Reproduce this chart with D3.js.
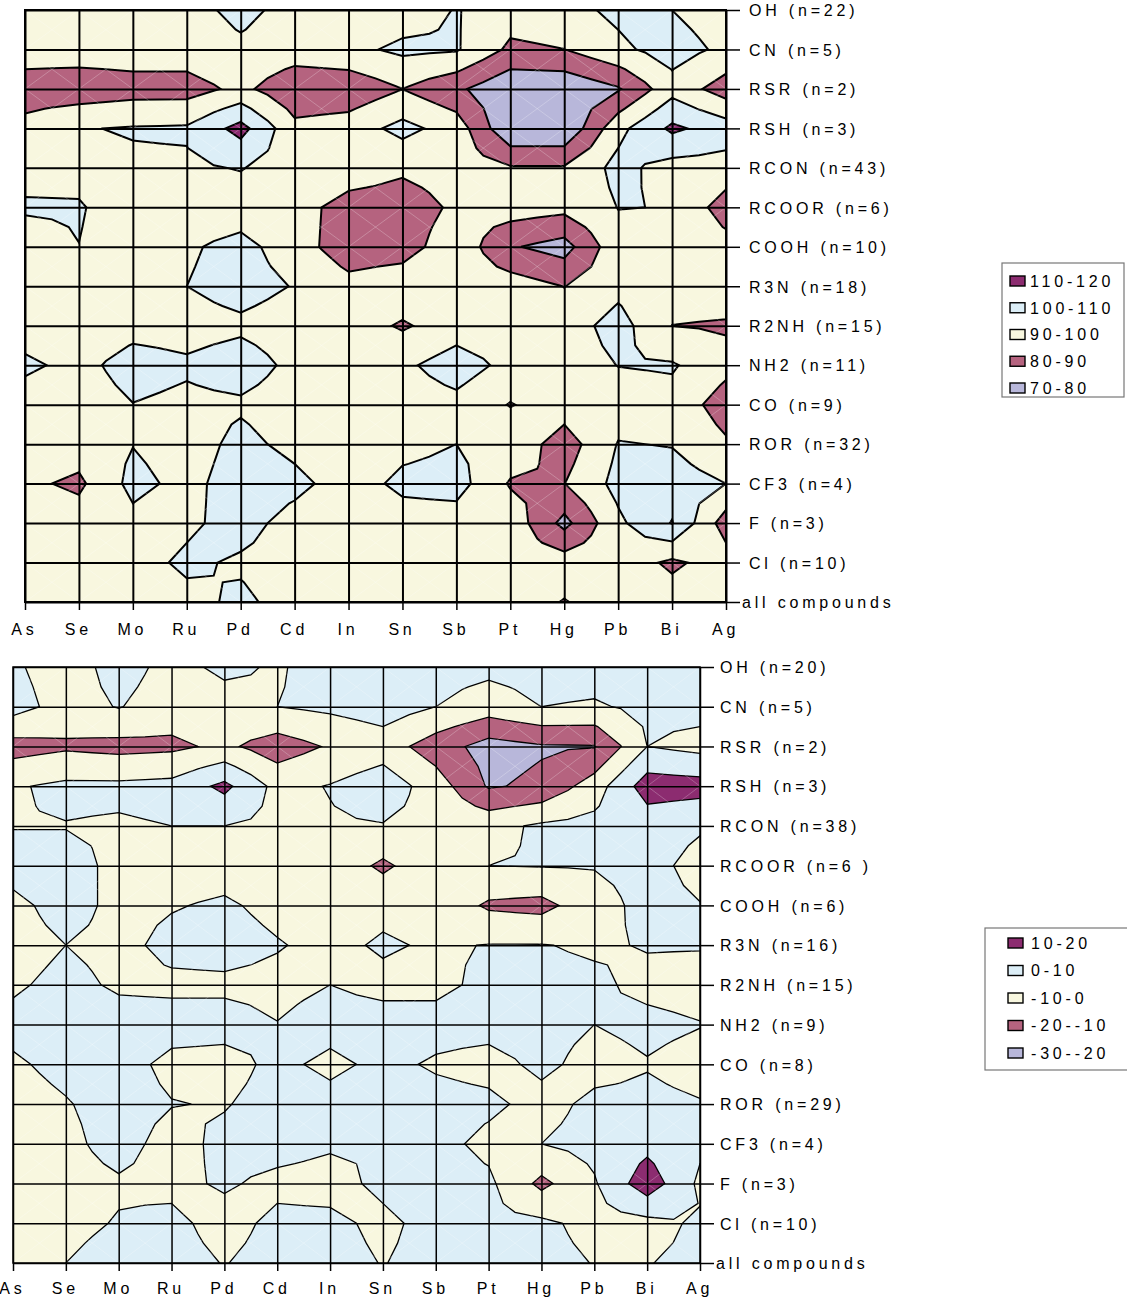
<!DOCTYPE html>
<html><head><meta charset="utf-8">
<script src="https://cdn.jsdelivr.net/npm/d3@7"></script>
<style>
html,body{margin:0;padding:0;background:#fff;}
svg text{font-family:"Liberation Sans",Arial,Helvetica,sans-serif;font-size:16px;letter-spacing:3.8px;fill:#000;}
</style></head>
<body>
<svg id="chart" width="1127" height="1299"></svg>
<script>
const metals = ["As","Se","Mo","Ru","Pd","Cd","In","Sn","Sb","Pt","Hg","Pb","Bi","Ag"];
const groupsTop = ["OH (n=22)","CN (n=5)","RSR (n=2)","RSH (n=3)","RCON (n=43)","RCOOR (n=6)","COOH (n=10)","R3N (n=18)","R2NH (n=15)","NH2 (n=11)","CO (n=9)","ROR (n=32)","CF3 (n=4)","F (n=3)","Cl (n=10)","all compounds"];
const groupsBottom = ["OH (n=20)","CN (n=5)","RSR (n=2)","RSH (n=3)","RCON (n=38)","RCOOR (n=6 )","COOH (n=6)","R3N (n=16)","R2NH (n=15)","NH2 (n=9)","CO (n=8)","ROR (n=29)","CF3 (n=4)","F (n=3)","Cl (n=10)","all compounds"];
const thresholdsTop = [80, 90, 100, 110];
const thresholdsBottom = [-20, -10, 0, 10];
const legendTop = ["110-120","100-110","90-100","80-90","70-80"];
const legendBottom = ["10-20","0-10","-10-0","-20--10","-30--20"];
const bandColors = ["#B8B7DA","#B5637F","#F8F7DF","#DCEEF7","#8C2C70"];

// rows = groups (top to bottom), columns = metals (As..Ag)
const valuesTop = [
  [95, 95, 95, 95, 104, 95, 95, 95, 100.5, 95, 97, 102, 100, 95],
  [95, 95, 95, 95, 97, 95, 97.5, 102, 101, 88, 89.9, 98, 104, 98],
  [85, 84, 86, 86, 92.4, 83, 83, 89.9, 82, 72, 72, 79, 96.5, 85],
  [93, 99.5, 100.7, 101.2, 113.5, 92.5, 95, 103, 95.6, 71, 71, 97, 112, 105],
  [97.2, 97, 98.4, 98.5, 100.5, 95, 97, 92, 95, 91, 91, 103, 96, 96],
  [101, 100.8, 95, 95, 95, 95, 85, 84, 92, 95, 93, 100.2, 99.8, 85],
  [96, 99.9, 95, 98.7, 103, 95, 84, 85, 97, 81, 76, 97, 95, 94],
  [95, 95, 95, 100, 104, 99.5, 93.5, 97, 95, 95, 89.8, 97, 95, 95],
  [95, 95, 96.6, 96.1, 98, 95, 95, 88.8, 95, 95, 95, 104, 89.9, 89],
  [102, 97, 104, 101.5, 105, 97.5, 95, 98, 105, 97, 95, 100.2, 101, 93],
  [95, 95, 99.8, 97.75, 98.5, 95, 95, 95, 97, 89.5, 95, 95, 96.6, 85],
  [95, 95, 99.7, 95, 103, 97, 95, 97, 100, 97, 85, 100.5, 99.5, 91.4],
  [92, 88, 103, 97, 105, 103, 95, 102.5, 104, 89, 89.8, 103, 105, 100],
  [95, 95, 97, 98, 104, 96, 95, 95, 95, 96.5, 77, 98, 110.5, 85],
  [95, 95, 96, 102, 98.5, 96, 95, 95, 95, 95, 95, 96, 88, 95],
  [95, 95, 95, 97, 102, 96, 95, 95, 95, 95, 89.5, 95, 95, 95]
];
const valuesBottom = [
  [1.5, -5, 4, -3, 2, -1, 4, 4, 4, 2.5, 4, 4, 4, 1],
  [4, -4, 0.5, -5, -4, 0, 2, 5, 0, -5, 0, -1, 2, 3],
  [-14, -11.5, -13, -12, -8, -15, -9, -5, -15, -24, -21, -20.5, 0, -3],
  [-1, 2, 2, 3, 12.5, -3, 0.5, 6, -5, -21, -18, -5, 15, 14],
  [-0.3, -0.3, -1, 0, 0, -2, -1, -0.5, -3, -3, 1.5, 3, 4, 1],
  [3, 3, -2, -3, -3, -3, -3, -12, -3, 0, 0.5, 0.5, 3, -3],
  [-2, 3, -2, -0.5, 1, -2, -3, -2, -3, -11.5, -13, -4, 3, 0.3],
  [-3, 0, -2, 2, 3, 0.5, -2, 1, -1, 0.3, 0.3, -1, 0.5, 0.5],
  [-1, 2, -1, -1.5, -1.5, -2, 0, -2, -2, 2, 2, 1.5, -2, -3],
  [2, 4, 3, 3, 3, 0.2, 3, 3, 3, 3, 3, 0, 2, 0.3],
  [-1, 2, 3, -2, -3, 2, -2, 2, -1, -3, 2, -3, -0.5, -3],
  [-3, -0.5, 3, 0.3, -0.5, 3, 3, 3, 3, 2, -3, 2, 2, 0.5],
  [-3, -2, 3, -3, 2, 3, 1, 0, 3, -2.5, 0, 3, 7, 2],
  [-3, -3, -1, -2, 1, -2, -3, 2, 3, 2, -12.5, -1, 16, -2],
  [-3, -2, 0.5, 2, -3, 2, 2, -2, 3, 2, 2, -3, -3, 1.5],
  [-3, 0, 3, 3, -0.3, 3, 3, -0.3, 3, 3, 3, -0.3, -0.3, 2]
];

const svg = d3.select("#chart");

// Surface sampling as the chart type does it: each cell is split by its centre,
// whose level is the mean of the four corner readings.
function surface(vals) {
  const ny = vals.length, nx = vals[0].length;
  const RX = 2 * nx - 1, RY = 2 * ny - 1, out = new Array(RX * RY);
  for (let r = 0; r < RY; r++) for (let c = 0; c < RX; c++) {
    const j0 = Math.floor(r / 2), j1 = Math.ceil(r / 2), i0 = Math.floor(c / 2), i1 = Math.ceil(c / 2);
    out[r * RX + c] = (vals[j0][i0] + vals[j0][i1] + vals[j1][i0] + vals[j1][i1]) / 4;
  }
  return {out, RX, RY};
}

function panel(o) {
  const nx = metals.length, ny = o.rows.length;
  const xp = d3.scalePoint().domain(metals).range([o.x0, o.x1]);
  const yp = d3.scalePoint().domain(o.rows).range([o.y0, o.y1]);
  const gx = d3.scaleLinear().domain([0, nx - 1]).range([o.x0, o.x1]);
  const gy = d3.scaleLinear().domain([0, ny - 1]).range([o.y0, o.y1]);
  const s = surface(o.values);
  const proj = d3.geoTransform({point(px, py) { this.stream.point(gx((px - 0.5) / 2), gy((py - 0.5) / 2)); }});
  const path = d3.geoPath(proj);
  const bands = d3.contours().size([s.RX, s.RY]).thresholds(o.thresholds)(s.out);

  svg.append("clipPath").attr("id", "clip" + o.id)
    .append("rect").attr("x", o.x0).attr("y", o.y0).attr("width", o.x1 - o.x0).attr("height", o.y1 - o.y0);
  const g = svg.append("g").attr("clip-path", `url(#clip${o.id})`);
  g.append("rect").attr("x", o.x0).attr("y", o.y0).attr("width", o.x1 - o.x0).attr("height", o.y1 - o.y0)
    .attr("fill", bandColors[0]);
  g.selectAll("path.band").data(bands).join("path").attr("class", "band")
    .attr("d", path).attr("fill", (d, i) => bandColors[i + 1])
    .attr("stroke", "#000").attr("stroke-width", o.sw).attr("stroke-linejoin", "miter");

  // faint mesh diagonals
  const cells = [];
  for (let j = 0; j < ny - 1; j++) for (let i = 0; i < nx - 1; i++) cells.push([i, j]);
  g.append("g").selectAll("path").data(cells).join("path")
    .attr("d", d => `M${gx(d[0])},${gy(d[1])}L${gx(d[0] + 1)},${gy(d[1] + 1)}M${gx(d[0] + 1)},${gy(d[1])}L${gx(d[0])},${gy(d[1] + 1)}`)
    .attr("stroke", "#fff").attr("stroke-opacity", 0.35).attr("stroke-width", 0.7).attr("fill", "none");

  // grid
  svg.append("g").attr("transform", `translate(0,${o.y1})`)
    .call(d3.axisBottom(xp).tickSize(-(o.y1 - o.y0)).tickFormat(""))
    .call(sel => sel.select(".domain").remove())
    .selectAll("line").attr("stroke", "#000").attr("stroke-width", o.gw);
  svg.append("g").attr("transform", `translate(${o.x1},0)`)
    .call(d3.axisRight(yp).tickSize(-(o.x1 - o.x0)).tickFormat(""))
    .call(sel => sel.select(".domain").remove())
    .selectAll("line").attr("stroke", "#000").attr("stroke-width", o.gw);
  svg.append("rect").attr("x", o.x0).attr("y", o.y0).attr("width", o.x1 - o.x0).attr("height", o.y1 - o.y0)
    .attr("fill", "none").attr("stroke", "#000").attr("stroke-width", o.gw);

  // x axis ticks + labels
  const ax = svg.append("g").attr("transform", `translate(0,${o.y1})`)
    .call(d3.axisBottom(xp).tickSize(8).tickSizeOuter(0));
  ax.select(".domain").remove();
  ax.selectAll("line").attr("stroke", "#000").attr("stroke-width", 1.5);
  ax.selectAll("text").attr("y", o.xLabelY - o.y1).attr("dy", 0).attr("dx", -1);

  // right axis ticks + labels
  const ay = svg.append("g").attr("transform", `translate(${o.x1},0)`)
    .call(d3.axisRight(yp).tickSize(14).tickSizeOuter(0).tickPadding(o.labelPad));
  ay.select(".domain").remove();
  ay.selectAll("line").attr("stroke", "#000").attr("stroke-width", 1.5);
  ay.selectAll("text").attr("dy", "0.36em")
    .attr("x", d => d === "all compounds" ? o.allX - o.x1 : 14 + o.labelPad);
}

function legend(o) {
  const lg = svg.append("g");
  lg.append("rect").attr("x", o.x).attr("y", o.y).attr("width", o.w).attr("height", o.h)
    .attr("fill", "#fff").attr("stroke", "#777").attr("stroke-width", 1.2);
  const ly = d3.scalePoint().domain(o.labels).range([o.first, o.last]);
  const colors = bandColors.slice().reverse();
  const items = lg.selectAll("g.item").data(o.labels).join("g").attr("class", "item")
    .attr("transform", d => `translate(0,${ly(d)})`);
  items.append("rect").attr("x", o.sx).attr("y", -5).attr("width", 15).attr("height", 10)
    .attr("fill", (d, i) => colors[i]).attr("stroke", "#000").attr("stroke-width", 1.4);
  items.append("text").attr("x", o.tx).attr("dy", "0.36em").text(d => d);
}

panel({values: valuesTop, rows: groupsTop, thresholds: thresholdsTop, x0: 25, x1: 726, y0: 10, y1: 602,
       sw: 2, gw: 2, labelPad: 9, xLabelY: 635, allX: 742, id: "a"});
panel({values: valuesBottom, rows: groupsBottom, thresholds: thresholdsBottom, x0: 13, x1: 700, y0: 667, y1: 1263,
       sw: 1.3, gw: 1.5, labelPad: 6, xLabelY: 1294, allX: 716, id: "b"});

legend({labels: legendTop, x: 1002, y: 263, w: 122, h: 134, first: 281, last: 388, sx: 1010, tx: 1030});
legend({labels: legendBottom, x: 985, y: 928, w: 150, h: 142, first: 943, last: 1053, sx: 1008, tx: 1031});
</script>
</body></html>
